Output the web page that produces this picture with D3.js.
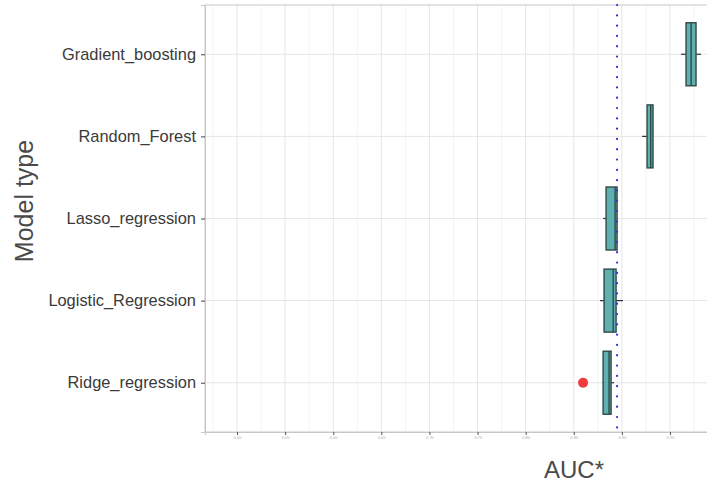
<!DOCTYPE html>
<html>
<head>
  <meta charset="utf-8">
  <title>AUC by model type</title>
  <style>
    body { margin: 0; background: #fff; }
    text { font-family: "Liberation Sans", Arial, sans-serif; }
  </style>
</head>
<body>
  <div id="chart"></div>
  <script src="https://cdn.jsdelivr.net/npm/d3@7"></script>
  <script>

    // categories top to bottom
    let models = ['Gradient_boosting', 'Random_Forest', 'Lasso_regression', 'Logistic_Regression', 'Ridge_regression'];
    // box stats (AUC)
    let lowWhisker = [0.9615, 0.921, 0.8805, 0.8773, 0.8800];
    let q1         = [0.9667, 0.9262, 0.8836, 0.8815, 0.8805];
    let median     = [0.9720, 0.9300, 0.8930, 0.8910, 0.8867];
    let q3         = [0.9771, 0.9324, 0.8950, 0.8940, 0.8888];
    let highWhisker= [0.9823, 0.9324, 0.8955, 0.9012, 0.8919];
    let outliers = [{model: 'Ridge_regression', value: 0.8597}];
    let refLine = 0.895;
    let xTicks = [0.50, 0.55, 0.60, 0.65, 0.70, 0.75, 0.80, 0.85, 0.90, 0.95];

    let svgWidth = 707, svgHeight = 484;
    let panel = {left: 205, top: 5, right: 712, bottom: 432};

    let svg = d3.select('#chart').append('svg')
      .attr('width', svgWidth)
      .attr('height', svgHeight);

    let x = d3.scaleLinear()
      .domain([0.4667, 0.9937])
      .range([panel.left, panel.right]);

    let y = d3.scalePoint()
      .domain(models)
      .range([panel.top, panel.bottom])
      .padding(0.6);

    // grid
    let minor = d3.range(0.475, 1.0, 0.05);
    svg.append('g').selectAll('line').data(minor).join('line')
      .attr('x1', d => x(d)).attr('x2', d => x(d))
      .attr('y1', panel.top).attr('y2', panel.bottom)
      .attr('stroke', '#f3f3f3');
    svg.append('g').selectAll('line').data(xTicks).join('line')
      .attr('x1', d => x(d)).attr('x2', d => x(d))
      .attr('y1', panel.top).attr('y2', panel.bottom)
      .attr('stroke', '#e6e6e6');
    svg.append('g').selectAll('line').data(models).join('line')
      .attr('x1', panel.left).attr('x2', panel.right)
      .attr('y1', d => y(d)).attr('y2', d => y(d))
      .attr('stroke', '#e6e6e6');

    // panel border
    svg.append('rect')
      .attr('x', panel.left).attr('y', panel.top)
      .attr('width', panel.right - panel.left).attr('height', panel.bottom - panel.top)
      .attr('fill', 'none').attr('stroke', '#c8c8c8');

    // axes
    let xAxis = svg.append('g')
      .attr('transform', 'translate(0,' + panel.bottom + ')')
      .call(d3.axisBottom(x).tickValues(xTicks).tickSize(3).tickPadding(1).tickFormat(d3.format('.2f')));
    xAxis.select('.domain').attr('stroke', '#c8c8c8');
    xAxis.selectAll('.tick line').attr('stroke', '#555');
    xAxis.selectAll('text').attr('font-size', 4).attr('fill', '#aaa');

    let yAxis = svg.append('g')
      .attr('transform', 'translate(' + panel.left + ',0)')
      .call(d3.axisLeft(y).tickSize(4).tickPadding(5));
    yAxis.select('.domain').attr('stroke', '#c8c8c8');
    yAxis.selectAll('.tick line').attr('stroke', '#444');
    yAxis.selectAll('text')
      .attr('font-size', 16.4)
      .attr('fill', '#3a3a3a');

    // boxplots
    let boxH = 63;
    let rows = models.map((m, i) => ({
      model: m, lo: lowWhisker[i], q1: q1[i], med: median[i], q3: q3[i], hi: highWhisker[i]
    }));

    let g = svg.append('g');
    g.selectAll('line.wlo').data(rows).join('line')
      .attr('x1', d => x(d.lo)).attr('x2', d => x(d.q1))
      .attr('y1', d => y(d.model)).attr('y2', d => y(d.model))
      .attr('stroke', '#333').attr('stroke-width', 1.2);
    g.selectAll('line.whi').data(rows).join('line')
      .attr('x1', d => x(d.q3)).attr('x2', d => x(d.hi))
      .attr('y1', d => y(d.model)).attr('y2', d => y(d.model))
      .attr('stroke', '#333').attr('stroke-width', 1.2);
    g.selectAll('rect').data(rows).join('rect')
      .attr('x', d => x(d.q1))
      .attr('width', d => x(d.q3) - x(d.q1))
      .attr('y', d => y(d.model) - boxH / 2)
      .attr('height', boxH)
      .attr('fill', '#5fb0b0')
      .attr('stroke', '#2f4a48')
      .attr('stroke-width', 1.4);
    g.selectAll('line.med').data(rows).join('line')
      .attr('x1', d => x(d.med)).attr('x2', d => x(d.med))
      .attr('y1', d => y(d.model) - boxH / 2).attr('y2', d => y(d.model) + boxH / 2)
      .attr('stroke', '#2f4a48').attr('stroke-width', 1.4);

    // outliers
    svg.append('g').selectAll('circle').data(outliers).join('circle')
      .attr('cx', d => x(d.value))
      .attr('cy', d => y(d.model))
      .attr('r', 5)
      .attr('fill', '#f03c3c');

    // reference line
    svg.append('line')
      .attr('x1', x(refLine)).attr('x2', x(refLine))
      .attr('y1', panel.top).attr('y2', panel.bottom)
      .attr('stroke', '#3a2fe0')
      .attr('stroke-width', 2.2)
      .attr('stroke-linecap', 'round')
      .attr('stroke-dasharray', '0.1,10.2');

    // titles
    svg.append('text')
      .attr('x', 574).attr('y', 478)
      .attr('text-anchor', 'middle')
      .attr('font-size', 24)
      .attr('fill', '#4a4a4a')
      .text('AUC*');

    svg.append('text')
      .attr('transform', 'translate(33,201) rotate(-90)')
      .attr('text-anchor', 'middle')
      .attr('font-size', 25)
      .attr('fill', '#4a4a4a')
      .text('Model type');

  </script>
</body>
</html>
